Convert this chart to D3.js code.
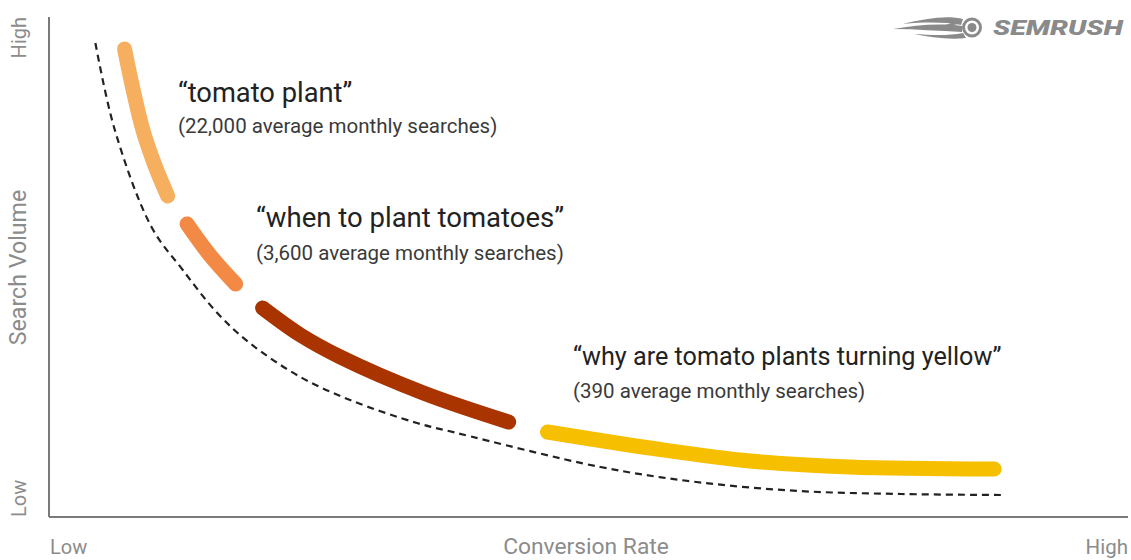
<!DOCTYPE html>
<html>
<head>
<meta charset="utf-8">
<script src="https://cdn.jsdelivr.net/npm/d3@7"></script>
<style>
  html, body { margin: 0; padding: 0; background: #fff; }
  svg { display: block; font-family: Roboto, "Noto Sans", Arial, sans-serif; }
</style>
</head>
<body>
<svg id="chart" width="1131" height="560"></svg>
<script>
// Axis end labels
const xTickLabels = ["Low", "High"];
const yTickLabels = ["Low", "High"];
const xTitle = "Conversion Rate";
const yTitle = "Search Volume";

// Long-tail trend (dashed guide curve): [conversion rate, search volume], 0–100 scale
const trendCurve = [
  [4.3, 94.8], [6.1, 77.4], [9.5, 58.0], [12.4, 49.4], [15.6, 40.8],
  [18.6, 34.8], [23.3, 28.0], [27.9, 23.4], [34.1, 18.8], [37.8, 16.8],
  [51.1, 10.0], [60.0, 7.0], [69.5, 5.2], [79.0, 4.6], [88.3, 4.4]
];

// Keyword segments along the curve
const keywords = ["tomato plant", "when to plant tomatoes", "why are tomato plants turning yellow"];
const monthlySearches = [22000, 3600, 390];

const segTomatoPlant = [[7.0, 93.6], [7.8, 85.4], [8.7, 77.4], [9.8, 70.4], [11.0, 64.2]];
const segWhenToPlant = [[12.8, 58.6], [14.9, 52.4], [17.3, 46.6]];
const segWhenToPlantLate = [[19.8, 41.8], [23.3, 36.4], [27.0, 32.0], [34.7, 24.8], [42.6, 19.0]];
const segTurningYellow = [[46.2, 17.0], [55.7, 13.8], [65.0, 11.2], [74.2, 10.0], [87.6, 9.6]];

const segments = [segTomatoPlant, segWhenToPlant, segWhenToPlantLate, segTurningYellow];
const segmentColors = ["#f6ae5f", "#f28a45", "#a93400", "#f6bf00"];

const svg = d3.select("#chart");

const x = d3.scaleLinear().domain([0, 100]).range([49, 1128]);
const y = d3.scaleLinear().domain([0, 100]).range([517, 17]);

// Axes: plain lines along the left and bottom edges
svg.append("line")
  .attr("x1", x(0)).attr("x2", x(0))
  .attr("y1", y(100)).attr("y2", y(0))
  .attr("stroke", "#7a7a7a").attr("stroke-width", 2);
svg.append("line")
  .attr("x1", x(0)).attr("x2", x(100))
  .attr("y1", y(0)).attr("y2", y(0))
  .attr("stroke", "#7a7a7a").attr("stroke-width", 2);

const labelColor = "#8c8c8c";

// Bottom axis labels
svg.append("text").attr("x", x(0) + 1).attr("y", 554)
  .attr("font-size", 20).attr("fill", labelColor).text(xTickLabels[0]);
svg.append("text").attr("x", x(100)).attr("y", 554)
  .attr("text-anchor", "end").attr("font-size", 20.5).attr("fill", labelColor).text(xTickLabels[1]);
svg.append("text").attr("x", 586).attr("y", 554)
  .attr("text-anchor", "middle").attr("font-size", 22.8).attr("fill", labelColor).text(xTitle);

// Left axis labels (rotated)
svg.append("text").attr("transform", `translate(26,${y(0)}) rotate(-90)`)
  .attr("font-size", 20).attr("fill", labelColor).text(yTickLabels[0]);
svg.append("text").attr("transform", `translate(26,${y(100)}) rotate(-90)`)
  .attr("text-anchor", "end").attr("font-size", 20).attr("fill", labelColor).text(yTickLabels[1]);
svg.append("text").attr("transform", `translate(25.5,267.5) rotate(-90)`)
  .attr("text-anchor", "middle").attr("font-size", 23.2).attr("fill", labelColor).text(yTitle);

const line = d3.line()
  .x(d => x(d[0])).y(d => y(d[1]))
  .curve(d3.curveCatmullRom.alpha(0.5));

// Dashed trend curve
svg.append("path")
  .datum(trendCurve)
  .attr("d", line)
  .attr("fill", "none")
  .attr("stroke", "#222")
  .attr("stroke-width", 2.2)
  .attr("stroke-dasharray", "7,5");

// Coloured keyword segments
svg.selectAll("path.seg")
  .data(segments)
  .join("path")
  .attr("class", "seg")
  .attr("d", line)
  .attr("fill", "none")
  .attr("stroke", (d, i) => segmentColors[i])
  .attr("stroke-width", 15)
  .attr("stroke-linecap", "round");

// Keyword annotations: [x, title baseline, subtitle baseline, title size]
const annotationPos = [[178, 102, 133, 27.3], [256, 227, 260, 27.5], [573, 365, 398, 25.2]];
const fmt = d3.format(",");
keywords.forEach((k, i) => {
  const [ax, ty, sy, fs] = annotationPos[i];
  svg.append("text").attr("x", ax).attr("y", ty)
    .attr("font-size", fs).attr("fill", "#222")
    .text(`\u201C${k}\u201D`);
  svg.append("text").attr("x", ax).attr("y", sy)
    .attr("font-size", 20.5).attr("fill", "#3a3a3a")
    .text(`(${fmt(monthlySearches[i])} average monthly searches)`);
});

// Brand mark, top right
const logo = svg.append("g").attr("fill", "#8a8a8a");
logo.append("path").attr("d", "M963,19 C946,15 925,19 903,24 C925,22 946,22 961,25 Z");
logo.append("path").attr("d", "M962,26 C940,23 916,25 893,29 C916,29 940,31 962,32 Z");
logo.append("path").attr("d", "M963,33 C948,36 930,35 914,34 C930,37 948,40 966,38 Z");
logo.append("path").attr("d", "M956,21 C950,23 944,26 938,27 C945,27 951,26 958,24 Z");
logo.append("circle").attr("cx", 972).attr("cy", 27.5).attr("r", 8.5)
  .attr("fill", "none").attr("stroke", "#8a8a8a").attr("stroke-width", 3);
logo.append("circle").attr("cx", 972).attr("cy", 27.5).attr("r", 4.5);
svg.append("text").attr("x", 993).attr("y", 35)
  .attr("font-size", 21).attr("font-weight", 900).attr("font-style", "italic")
  .attr("fill", "#8a8a8a")
  .attr("textLength", 130).attr("lengthAdjust", "spacingAndGlyphs")
  .text("SEMRUSH");
</script>
</body>
</html>
